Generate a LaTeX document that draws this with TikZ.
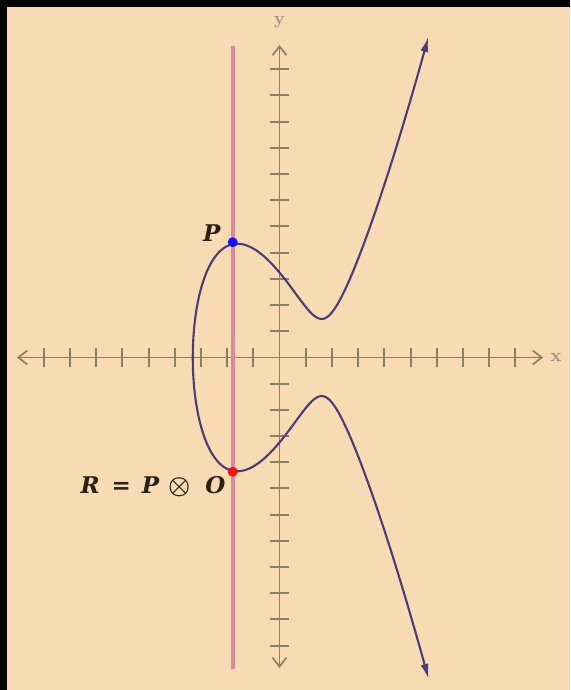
\documentclass[tikz,border=0pt]{standalone}
\usepackage{fontspec}
\newfontfamily\lblfont{DejaVu Serif}
\usetikzlibrary{arrows.meta}
\definecolor{bg}{HTML}{F8DAB3}
\definecolor{axisc}{HTML}{8A8066}
\definecolor{axtxt}{HTML}{968C7C}
\definecolor{curvec}{HTML}{4A3D76}
\definecolor{linec}{HTML}{D48BA2}
\definecolor{txtc}{HTML}{2B2015}
\definecolor{dotblue}{HTML}{1414F0}
\definecolor{dotred}{HTML}{F01414}
\begin{document}
\begin{tikzpicture}[x=1pt,y=1pt,
  declare function={cy(\s)=\s*sqrt((\s*\s-3.31)*(\s*\s-6.62)+3.176);},
  axis/.style={draw=axisc, line width=2pt},
  axarrow/.style={axisc, line width=1.7pt, {Straight Barb[length=9pt,width=14pt]}-{Straight Barb[length=9pt,width=14pt]}},
  curvestyle/.style={draw=curvec, line width=2.1pt, {Latex[length=15pt,width=8pt]}-{Latex[length=15pt,width=8pt]}},
  vline/.style={draw=linec, line width=4.2pt},
  ptdot/.style={circle, inner sep=0pt, minimum size=10pt},
  lbl/.style={text=txtc, font=\lblfont\fontsize{23}{26}\selectfont\bfseries\itshape, inner sep=0pt},
  axlbl/.style={text=axtxt, font=\fontsize{18}{20}\selectfont\bfseries, inner sep=0pt}]
\fill[black] (0,0) rectangle (570,690);
\fill[bg] (7,0) rectangle (570,683);
\begin{scope}[shift={(279.5pt,332.5pt)}, x=26.2pt, y=26.2pt]
  % axes
  \draw[axarrow] (-10.02,0) -- (10.06,0);
  \draw[axarrow] (0,-11.85) -- (0,11.93);
  \foreach \k in {-9,...,-1,1,2,...,9} \draw[axis] (\k,-0.38) -- (\k,0.38);
  \foreach \k in {-11,...,-1,1,2,...,11} \draw[axis] (-0.36,\k) -- (0.36,\k);
  \node[axlbl] (xl) at (10.55,0) {x};
  \node[axlbl] (yl) at (0,12.8) {y};
  % curve
  \draw[curvestyle] plot[domain=-3:3, samples=161, variable=\s, smooth] ({\s*\s-3.31},{cy(\s)});
  % vertical line
  \coordinate (Ltop) at (-1.786,11.89);
  \coordinate (Lbot) at (-1.786,-11.89);
  \draw[vline] (Lbot) -- (Ltop);
  % points
  \node[ptdot, fill=dotblue] (P) at (-1.786,4.40) {};
  \node[ptdot, fill=dotred] (R) at (-1.786,-4.36) {};
  \node[lbl] (Pl) at ([shift={(-21pt,9pt)}]P.center) {P};
  \node[lbl, anchor=east] (Rl) at ([shift={(-7pt,-15pt)}]R.center) {R\hspace{12pt}=\hspace{11pt}P\hspace{9pt}{\boldmath$\otimes$}\hspace{15pt}O};
\end{scope}
\end{tikzpicture}
\end{document}
